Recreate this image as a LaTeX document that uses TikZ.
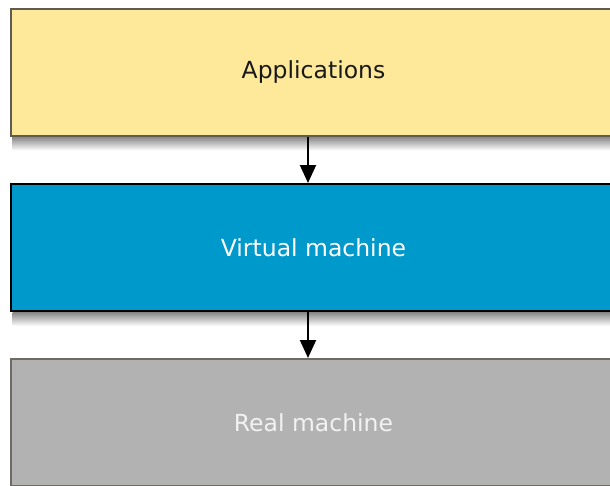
\documentclass[tikz,border=0pt]{standalone}
\usepackage{fontspec}
\setmainfont{DejaVu Sans}
\usetikzlibrary{arrows.meta,backgrounds}
\definecolor{appfill}{HTML}{FEE89A}
\definecolor{appline}{HTML}{5F5B52}
\definecolor{vmfill}{HTML}{0099CC}
\definecolor{rmfill}{HTML}{B2B2B2}
\definecolor{rmline}{HTML}{6E6A64}
\definecolor{rmtext}{HTML}{F2F2F2}
\tikzset{
  layer/.style={draw, line width=2pt, minimum width=606pt, minimum height=127pt,
    anchor=north west, inner sep=0pt, font=\fontsize{23.5}{28}\selectfont},
  flow/.style={line width=2pt, -{Triangle[width=16pt,length=18pt]}},
  dropshade/.style={top color=black!48, bottom color=white, draw=none}
}
\begin{document}
\begin{tikzpicture}[x=1pt,y=-1pt]
\useasboundingbox (0,0) rectangle (610,485);
\clip (0,0) rectangle (610,485);
\node[layer, fill=appfill, draw=appline, text=black!90] (app) at (9.5,7.5) {Applications};
\node[layer, fill=vmfill, draw=black, text=white] (vm) at (9.5,183) {Virtual machine};
\node[layer, fill=rmfill, draw=rmline, text=rmtext] (rm) at (9.5,358) {Real machine};
% page colour and soft shadows under the layers
\begin{scope}[on background layer]
  \fill[white] (0,0) rectangle (610,485);
  \shade[dropshade] ([xshift=3pt]app.south west) rectangle ([yshift=-14pt]app.south east);
  \shade[dropshade] ([xshift=3pt]vm.south west) rectangle ([yshift=-14pt]vm.south east);
\end{scope}
\draw[flow] ([xshift=-5.5pt]app.south) -- ([xshift=-5.5pt]vm.north);
\draw[flow] ([xshift=-5.5pt]vm.south) -- ([xshift=-5.5pt]rm.north);
\end{tikzpicture}
\end{document}
